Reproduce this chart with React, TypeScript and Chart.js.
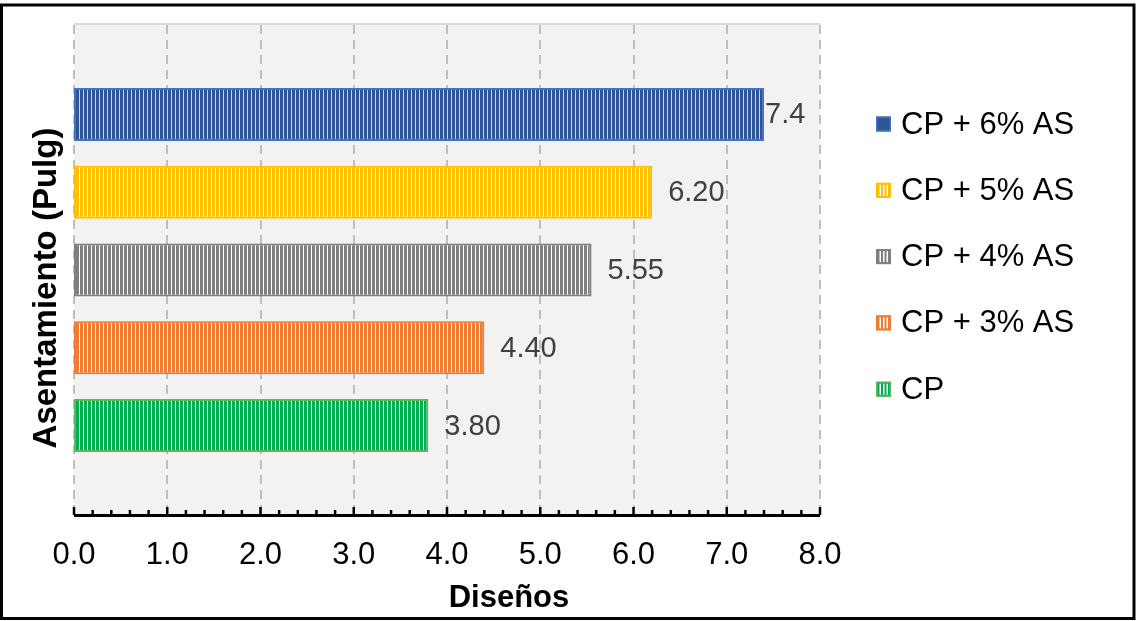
import React, { useEffect, useRef } from 'react';
import { Chart, registerables } from 'chart.js';

Chart.register(...registerables);

const categories = [''];
const seriesNames = ['CP + 6% AS', 'CP + 5% AS', 'CP + 4% AS', 'CP + 3% AS', 'CP'];
const seriesValues = [7.4, 6.2, 5.55, 4.4, 3.8];
const valueLabels = ['7.4', '6.20', '5.55', '4.40', '3.80'];
const fillColors = ['#2F5597', '#FFC000', '#7F7F7F', '#ED7D31', '#00B050'];
const borderColors = ['#4472C4', '#FFC000', '#808080', '#ED7D31', '#5CB85C'];
const stripeColors = ['#C9D3EC', '#FFFFFF', '#FFFFFF', '#FFFFFF', '#FFFFFF'];
const xTickLabels = ['0.0', '1.0', '2.0', '3.0', '4.0', '5.0', '6.0', '7.0', '8.0'];
const xMin = 0;
const xMax = 8;
const xStep = 1;
const minorStep = 0.2;
const xTitle = 'Diseños';
const yTitle = 'Asentamiento (Pulg)';

const FONT = "'Liberation Sans', Arial, sans-serif";

function makePattern(ctx: CanvasRenderingContext2D, color: string, stripe: string) {
  const c = document.createElement('canvas');
  c.width = 4;
  c.height = 4;
  const g = c.getContext('2d')!;
  g.fillStyle = color;
  g.fillRect(0, 0, 4, 4);
  g.fillStyle = stripe;
  g.fillRect(3, 0, 1, 4);
  return ctx.createPattern(c, 'repeat') as CanvasPattern;
}

const decorPlugin = {
  id: 'decor',
  beforeDraw(chart: any) {
    const { ctx, chartArea: a, width, height } = chart;
    ctx.save();
    ctx.fillStyle = '#FFFFFF';
    ctx.fillRect(0, 0, width, height);
    ctx.fillStyle = '#F2F2F2';
    ctx.fillRect(a.left, a.top, a.right - a.left, a.bottom - a.top);
    ctx.strokeStyle = '#D9D9D9';
    ctx.lineWidth = 2;
    ctx.beginPath();
    ctx.moveTo(a.left, a.top + 1);
    ctx.lineTo(a.right, a.top + 1);
    ctx.stroke();
    const xs = chart.scales.x;
    ctx.strokeStyle = '#BFBFBF';
    ctx.lineWidth = 2;
    ctx.setLineDash([9, 6]);
    xs.ticks.forEach((t: any) => {
      const x = Math.round(xs.getPixelForValue(t.value));
      ctx.beginPath();
      ctx.moveTo(x, a.top + 2);
      ctx.lineTo(x, a.bottom);
      ctx.stroke();
    });
    ctx.restore();
  },
  afterDraw(chart: any) {
    const { ctx, chartArea: a, width, height } = chart;
    const xs = chart.scales.x;
    ctx.save();
    // axis line
    ctx.strokeStyle = '#000000';
    ctx.lineWidth = 3;
    ctx.beginPath();
    ctx.moveTo(a.left, a.bottom - 1.5);
    ctx.lineTo(a.right, a.bottom - 1.5);
    ctx.stroke();
    // minor + major ticks (inside)
    ctx.lineWidth = 2.5;
    const nMinor = Math.round((xMax - xMin) / minorStep);
    for (let k = 0; k <= nMinor; k++) {
      const v = xMin + k * minorStep;
      const isMajor = Math.abs(v / xStep - Math.round(v / xStep)) < 1e-6;
      const x = xs.getPixelForValue(v);
      ctx.beginPath();
      ctx.moveTo(x, a.bottom - 2);
      ctx.lineTo(x, a.bottom - (isMajor ? 10 : 7));
      ctx.stroke();
    }
    // tick labels
    ctx.fillStyle = '#000000';
    ctx.font = `31px ${FONT}`;
    ctx.textAlign = 'center';
    ctx.textBaseline = 'middle';
    xs.ticks.forEach((t: any, i: number) => {
      ctx.fillText(xTickLabels[i] ?? String(t.value), xs.getPixelForValue(t.value), 555);
    });
    // x title
    ctx.font = `bold 31px ${FONT}`;
    ctx.fillText(xTitle, 509, 598);
    // y title
    ctx.save();
    ctx.translate(47, 288);
    ctx.rotate(-Math.PI / 2);
    ctx.font = `bold 33px ${FONT}`;
    ctx.fillText(yTitle, 0, 0);
    ctx.restore();
    // data labels
    ctx.font = `29px ${FONT}`;
    ctx.fillStyle = '#404040';
    ctx.textAlign = 'left';
    const gaps = [1, 16, 16, 16, 16];
    chart.data.datasets.forEach((ds: any, i: number) => {
      const el = chart.getDatasetMeta(i).data[0];
      if (!el) return;
      ctx.fillText(valueLabels[i], el.x + gaps[i], el.y + 1);
    });
    // legend
    const bx = 876;
    const tx = 901;
    const y0 = 124;
    const dy = 66.3;
    seriesNames.forEach((name, i) => {
      const cy = y0 + i * dy;
      ctx.fillStyle = fillColors[i];
      ctx.fillRect(bx, cy - 7.5, 15, 15);
      if (i !== 0) {
        ctx.fillStyle = '#FFFFFF';
        for (let s = 0; s < 3; s++) ctx.fillRect(bx + 3.5 + s * 3.5, cy - 5.5, 1.5, 11);
      }
      ctx.strokeStyle = borderColors[i];
      ctx.lineWidth = 1.5;
      ctx.strokeRect(bx + 0.75, cy - 6.75, 13.5, 13.5);
      ctx.fillStyle = '#000000';
      ctx.font = `31px ${FONT}`;
      ctx.textBaseline = 'middle';
      ctx.fillText(name, tx, cy + 1);
    });
    // outer border
    ctx.strokeStyle = '#000000';
    ctx.lineWidth = 3;
    ctx.strokeRect(1.5, 5, width - 3.5, height - 7.5);
    ctx.restore();
  },
};

export default function App() {
  const ref = useRef<HTMLCanvasElement | null>(null);
  useEffect(() => {
    document.body.style.margin = '0';
    const canvas = ref.current!;
    const ctx = canvas.getContext('2d')!;
    const datasets = seriesNames.map((name, i) => ({
      label: name,
      data: [seriesValues[i]],
      backgroundColor: makePattern(ctx, fillColors[i], stripeColors[i]),
      borderColor: borderColors[i],
      borderWidth: 2,
      borderSkipped: false as const,
      categoryPercentage: 0.787,
      barPercentage: 0.68,
    }));
    const chart = new Chart(canvas, {
      type: 'bar',
      data: { labels: categories, datasets },
      options: {
        indexAxis: 'y',
        responsive: false,
        animation: false,
        events: [],
        layout: { padding: { left: 74, top: 23, right: 316, bottom: 0 } },
        plugins: { legend: { display: false }, tooltip: { enabled: false } },
        scales: {
          x: {
            type: 'linear',
            min: xMin,
            max: xMax,
            ticks: { stepSize: xStep, display: false },
            grid: { display: false },
            border: { display: false },
            afterFit: (s: any) => {
              s.height = 104;
            },
          },
          y: { type: 'category', display: false },
        },
      },
      plugins: [decorPlugin],
    });
    return () => chart.destroy();
  }, []);
  return <canvas ref={ref} width={1136} height={621} style={{ display: 'block' }} />;
}
